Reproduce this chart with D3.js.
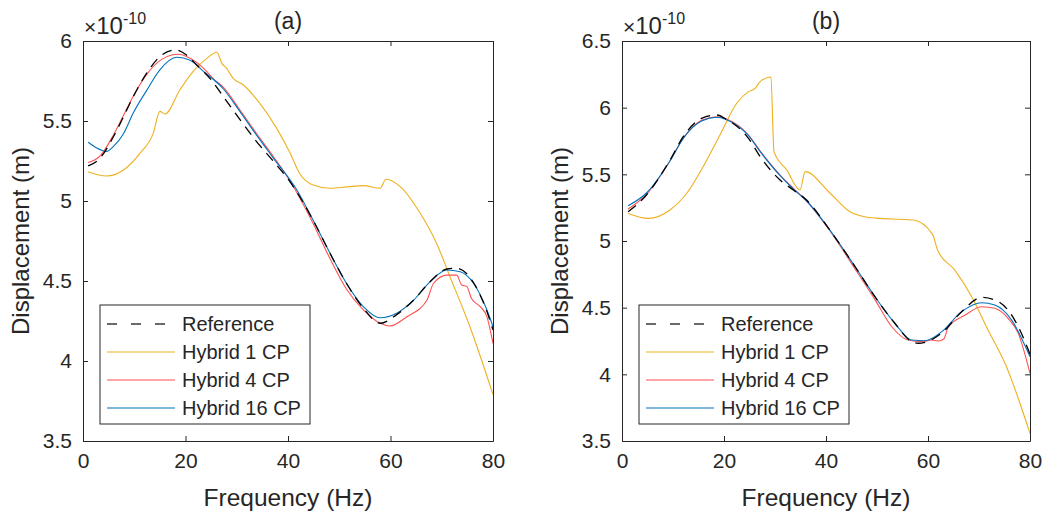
<!DOCTYPE html>
<html>
<head>
<meta charset="utf-8">
<script src="https://cdn.jsdelivr.net/npm/d3@7"></script>
<style>
    body { margin: 0; background: #fff; }
    text { font-family: "Liberation Sans", Arial, sans-serif; fill: #262626; }
</style>
</head>
<body>
<div id="chart"></div>
<script>

// ---- data (displacement in units of 1e-10 m) ----

// panel (a)
const freqRefA = [1, 3.3, 5.9, 7.9, 9.8, 12.4, 15.35, 18, 20.2, 22.2, 24.8, 27.4, 30.6, 33.9, 37.1, 40.4, 44.9, 48.2, 51.4, 54.7, 58, 61.2, 64.5, 67.7, 71, 72.9, 76.2, 78.8, 80];
const dispRefA = [5.219, 5.267, 5.40, 5.527, 5.652, 5.798, 5.912, 5.944, 5.912, 5.85, 5.765, 5.652, 5.51, 5.37, 5.25, 5.12, 4.88, 4.673, 4.486, 4.33, 4.236, 4.29, 4.38, 4.495, 4.575, 4.58, 4.49, 4.31, 4.194];

const freqCp1A = [1, 4.6, 7.9, 11.1, 13.7, 15.0, 16.0, 18.9, 21.5, 24.1, 26.1, 27.1, 28.0, 29.3, 31.3, 34.5, 37.8, 40.4, 42.3, 44.9, 48.2, 51.5, 54.7, 58.0, 59.1, 61.9, 65.8, 69.0, 71.6, 75.5, 80];
const dispCp1A = [5.183, 5.156, 5.194, 5.298, 5.423, 5.56, 5.544, 5.694, 5.81, 5.89, 5.93, 5.86, 5.83, 5.767, 5.725, 5.61, 5.454, 5.30, 5.17, 5.10, 5.08, 5.088, 5.096, 5.08, 5.136, 5.09, 4.923, 4.735, 4.527, 4.214, 3.79];

const freqCp4A = [1, 3.3, 5.9, 7.9, 9.8, 12.4, 15.35, 18.6, 21, 23.5, 25.4, 27.4, 30.6, 33.9, 37.1, 40.4, 44.9, 48.2, 51.4, 54.7, 58, 59.9, 63.2, 67.1, 68.4, 71, 72.9, 73.9, 74.9, 75.8, 77.5, 78.8, 80];
const dispCp4A = [5.24, 5.28, 5.41, 5.535, 5.655, 5.79, 5.885, 5.917, 5.89, 5.83, 5.765, 5.71, 5.57, 5.42, 5.28, 5.125, 4.86, 4.64, 4.45, 4.32, 4.236, 4.219, 4.277, 4.38, 4.486, 4.537, 4.537, 4.475, 4.465, 4.39, 4.34, 4.277, 4.11];

const freqCp16A = [1, 2.5, 4.6, 5.9, 7.9, 9.8, 12.4, 15, 18.3, 20.9, 23.5, 27.4, 30.6, 33.9, 37.1, 41.7, 44.9, 48.2, 51.4, 54.7, 58, 61.2, 64.5, 67.7, 71, 73.6, 76.2, 78.8, 80];
const dispCp16A = [5.367, 5.335, 5.31, 5.34, 5.42, 5.55, 5.69, 5.82, 5.898, 5.88, 5.81, 5.70, 5.56, 5.41, 5.27, 5.07, 4.88, 4.673, 4.486, 4.34, 4.27, 4.298, 4.38, 4.495, 4.569, 4.558, 4.486, 4.32, 4.214];

// panel (b)
const freqRefB = [1.2, 4.8, 9.4, 12, 15.6, 18.6, 20.5, 24.8, 27.1, 31, 33.6, 36.2, 40.8, 45.7, 49.6, 53.5, 56.8, 58.1, 59.4, 62.7, 66.6, 70.5, 73.8, 77, 79.7, 80];
const dispRefB = [5.22, 5.345, 5.607, 5.782, 5.92, 5.945, 5.912, 5.77, 5.632, 5.457, 5.383, 5.307, 5.08, 4.807, 4.582, 4.383, 4.245, 4.233, 4.24, 4.31, 4.47, 4.577, 4.545, 4.407, 4.18, 4.15];

const freqCp1B = [1.2, 5.2, 9.4, 12.7, 15.9, 19.2, 22.5, 24.8, 26.1, 27.1, 29.2, 29.8, 32.3, 34.9, 35.9, 40.8, 44.7, 47.6, 50.6, 54.2, 57.1, 60.9, 61.9, 65.3, 68.6, 71.8, 75.1, 80];
const dispCp1B = [5.207, 5.17, 5.233, 5.358, 5.557, 5.795, 6.033, 6.12, 6.145, 6.195, 6.23, 5.67, 5.533, 5.383, 5.52, 5.358, 5.22, 5.182, 5.17, 5.163, 5.158, 5.05, 4.93, 4.78, 4.58, 4.33, 4.083, 3.557];

const freqCp4B = [1.2, 4.8, 9.4, 12, 15.6, 18.6, 20.5, 24.8, 27.1, 31, 33.6, 36.2, 40.8, 45.7, 49.6, 52.9, 56.1, 58.8, 60.7, 62, 63.1, 64, 67.3, 70.5, 73.1, 75.7, 77.7, 80];
const dispCp4B = [5.24, 5.35, 5.6, 5.77, 5.905, 5.932, 5.915, 5.795, 5.675, 5.495, 5.395, 5.30, 5.075, 4.79, 4.56, 4.357, 4.257, 4.245, 4.257, 4.25, 4.265, 4.357, 4.445, 4.507, 4.495, 4.42, 4.307, 4.007];

const freqCp16B = [1.2, 4.8, 9.4, 12, 15.6, 18.6, 20.5, 24.8, 27.1, 31, 33.6, 36.2, 40.8, 45.7, 49.6, 53.5, 56.8, 59.4, 62.7, 66.6, 70.5, 73.1, 76.4, 80];
const dispCp16B = [5.265, 5.36, 5.6, 5.77, 5.9, 5.928, 5.91, 5.79, 5.67, 5.49, 5.39, 5.30, 5.08, 4.807, 4.582, 4.383, 4.257, 4.252, 4.32, 4.47, 4.537, 4.52, 4.407, 4.132];

const seriesNames = ["Reference", "Hybrid 1 CP", "Hybrid 4 CP", "Hybrid 16 CP"];
const seriesColors = ["#000000", "#EDB120", "#FF5050", "#0072BD"];
const xTicks = [0, 20, 40, 60, 80];
const yTicksA = [3.5, 4, 4.5, 5, 5.5, 6];
const yTicksB = [3.5, 4, 4.5, 5, 5.5, 6, 6.5];


const svg = d3.select("#chart").append("svg")
    .attr("width", 1044)
    .attr("height", 515);

function zipSeries(freqs, disps) {
    return freqs.map((f, i) => ({f: f, v: disps[i]}));
}

function drawPanel(cfg) {
    let x = d3.scaleLinear().domain([0, 80]).range([cfg.left, cfg.right]);
    let y = d3.scaleLinear().domain(cfg.yDomain).range([441, 41]);
    let g = svg.append("g");

    // clip so lines stay inside the box
    let clipId = "clip-" + cfg.id;
    svg.append("clipPath").attr("id", clipId)
        .append("rect")
        .attr("x", cfg.left).attr("y", 41)
        .attr("width", cfg.right - cfg.left).attr("height", 400);

    let line = d3.line()
        .curve(d3.curveMonotoneX)
        .x(d => x(d.f))
        .y(d => y(d.v));

    // hybrids first, reference last so it sits on top
    let order = [1, 2, 3, 0];
    order.forEach(function(k) {
        g.append("path")
            .datum(cfg.series[k])
            .attr("clip-path", "url(#" + clipId + ")")
            .attr("fill", "none")
            .attr("stroke", seriesColors[k])
            .attr("stroke-width", k === 0 ? 1.3 : 1.1)
            .attr("stroke-dasharray", k === 0 ? "10,7" : null)
            .attr("d", line);
    });

    // axes, ticks inside on all four sides
    let tickLen = 5;
    let axisBottom = d3.axisBottom(x).tickValues(xTicks).tickSizeInner(-tickLen).tickSizeOuter(0).tickPadding(12);
    let axisTop = d3.axisTop(x).tickValues(xTicks).tickSizeInner(-tickLen).tickSizeOuter(0).tickFormat("");
    let axisLeft = d3.axisLeft(y).tickValues(cfg.yTicks).tickSizeInner(-tickLen).tickSizeOuter(0).tickPadding(11).tickFormat(d3.format("~g"));
    let axisRight = d3.axisRight(y).tickValues(cfg.yTicks).tickSizeInner(-tickLen).tickSizeOuter(0).tickFormat("");

    g.append("g").attr("transform", "translate(0,441)").call(axisBottom);
    g.append("g").attr("transform", "translate(0,41)").call(axisTop);
    g.append("g").attr("transform", "translate(" + cfg.left + ",0)").call(axisLeft);
    g.append("g").attr("transform", "translate(" + cfg.right + ",0)").call(axisRight);

    g.selectAll(".domain").attr("stroke", "#262626").attr("stroke-width", 1);
    g.selectAll(".tick line").attr("stroke", "#262626").attr("stroke-width", 1);
    g.selectAll(".tick text")
        .attr("font-family", "Liberation Sans, Arial, sans-serif")
        .attr("font-size", 21)
        .attr("fill", "#262626");

    // title and axis labels
    g.append("text")
        .attr("x", (cfg.left + cfg.right) / 2)
        .attr("y", 29)
        .attr("text-anchor", "middle")
        .attr("font-size", 23)
        .text(cfg.title);

    g.append("text")
        .attr("x", (cfg.left + cfg.right) / 2)
        .attr("y", 506)
        .attr("text-anchor", "middle")
        .attr("font-size", 24.5)
        .text("Frequency (Hz)");

    g.append("text")
        .attr("transform", "translate(" + (cfg.left - 54) + ",241) rotate(-90)")
        .attr("text-anchor", "middle")
        .attr("font-size", 24)
        .text("Displacement (m)");

    // exponent label
    let expo = g.append("text")
        .attr("x", cfg.left + 1)
        .attr("y", 34);
    expo.append("tspan").attr("font-size", 21).text("\u00D7");
    expo.append("tspan").attr("font-size", 24).text("10");
    expo.append("tspan").attr("font-size", 16).attr("dy", -10).text("-10");

    // legend
    let lg = g.append("g").attr("transform", "translate(" + cfg.legendX + ",305)");
    lg.append("rect")
        .attr("width", 210).attr("height", 119)
        .attr("fill", "#fff")
        .attr("stroke", "#262626")
        .attr("stroke-width", 1);
    seriesNames.forEach(function(name, k) {
        let rowY = 19 + k * 28;
        lg.append("line")
            .attr("x1", 7).attr("x2", 75)
            .attr("y1", rowY).attr("y2", rowY)
            .attr("stroke", k === 0 ? "#3a3a3a" : seriesColors[k])
            .attr("stroke-width", k === 0 ? 1.3 : 1.1)
            .attr("stroke-dasharray", k === 0 ? "10,14" : null);
        lg.append("text")
            .attr("x", 82).attr("y", rowY + 7)
            .attr("font-size", 20)
            .text(name);
    });
}

drawPanel({
    id: "a", title: "(a)", left: 83, right: 493,
    yDomain: [3.5, 6], yTicks: yTicksA, legendX: 100,
    series: [zipSeries(freqRefA, dispRefA), zipSeries(freqCp1A, dispCp1A),
             zipSeries(freqCp4A, dispCp4A), zipSeries(freqCp16A, dispCp16A)]
});

drawPanel({
    id: "b", title: "(b)", left: 622, right: 1030,
    yDomain: [3.5, 6.5], yTicks: yTicksB, legendX: 639,
    series: [zipSeries(freqRefB, dispRefB), zipSeries(freqCp1B, dispCp1B),
             zipSeries(freqCp4B, dispCp4B), zipSeries(freqCp16B, dispCp16B)]
});

</script>
</body>
</html>
